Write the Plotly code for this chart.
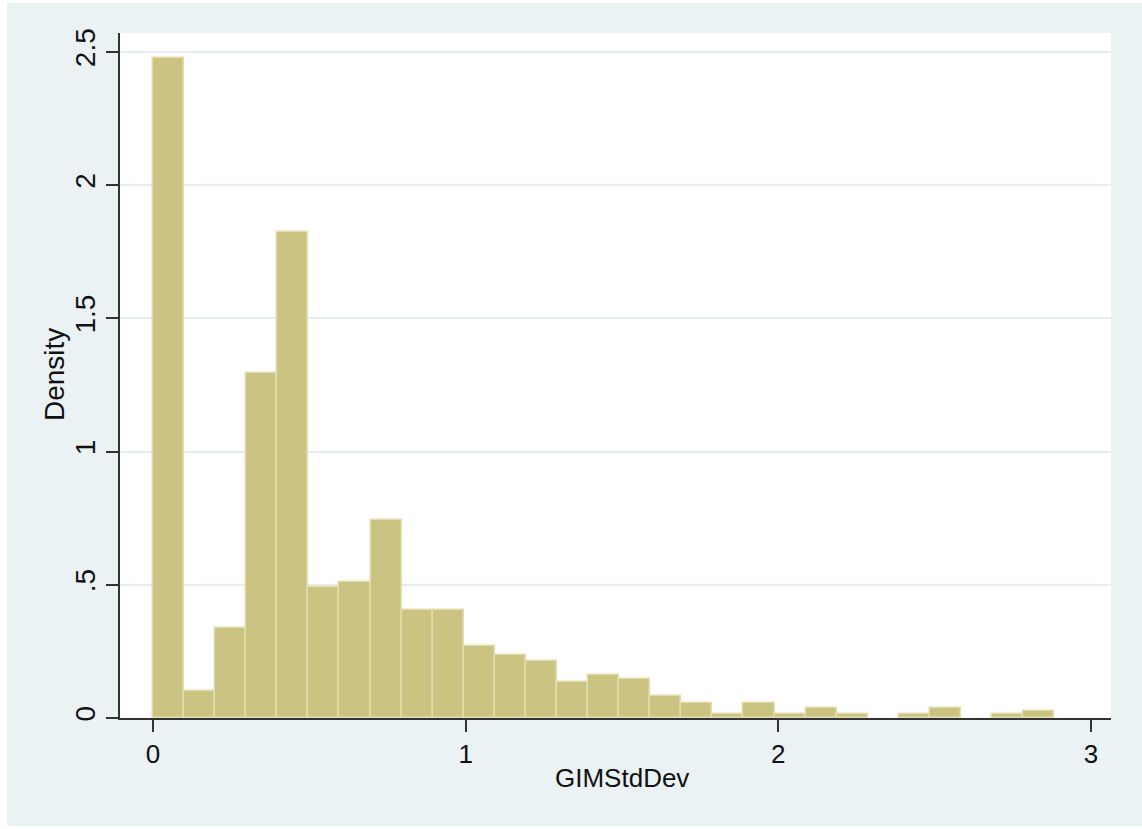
import plotly.graph_objects as go

# Histogram of GIMStdDev (density), 29 bins starting at 0
bin_start = 0.0
bin_width = 0.0994
density = [2.477, 0.103, 0.338, 1.295, 1.824, 0.491, 0.509, 0.743, 0.406, 0.406,
           0.272, 0.238, 0.214, 0.137, 0.161, 0.147, 0.082, 0.057, 0.015, 0.057,
           0.015, 0.037, 0.015, 0.0, 0.015, 0.037, 0.0, 0.015, 0.025]

x_tick_vals = [0, 1, 2, 3]
x_tick_text = ["0", "1", "2", "3"]
y_tick_vals = [0, 0.5, 1, 1.5, 2, 2.5]
y_tick_text = ["0", ".5", "1", "1.5", "2", "2.5"]

centers = [bin_start + bin_width * (i + 0.5) for i in range(len(density))]
line_widths = [1.5 if d > 0 else 0 for d in density]

W, H = 1142, 829
L, R, T, B = 120, 31, 33, 111
pw, ph = W - L - R, H - T - B

def px_x(p):
    return (p - L) / pw

def px_y(p):
    return (H - B - p) / ph

fig = go.Figure()
fig.add_trace(go.Bar(
    x=centers, y=density, width=bin_width,
    marker=dict(color="#cbc382", line=dict(color="#e3ddb0", width=line_widths)),
    hoverinfo="x+y",
))

family = "Liberation Sans, Arial, sans-serif"
xfont = dict(family=family, size=26, color="#111111")
yfont = dict(family=family, size=28, color="#111111")

fig.update_layout(
    width=W, height=H,
    margin=dict(l=L, r=R, t=T, b=B, pad=0),
    paper_bgcolor="white",
    plot_bgcolor="white",
    showlegend=False,
    bargap=0,
    font=xfont,
    xaxis=dict(
        range=[-0.1055, 3.064],
        tickmode="array", tickvals=x_tick_vals, ticktext=x_tick_text,
        ticks="outside", ticklen=12, tickwidth=1.5, tickcolor="#333333",
        showgrid=False, zeroline=False,
        showline=True, linecolor="#333333", linewidth=1.5,
        tickfont=xfont,
    ),
    yaxis=dict(
        range=[0, 2.571],
        tickmode="array", tickvals=y_tick_vals, ticktext=y_tick_text,
        ticks="outside", ticklen=12, tickwidth=1.5, tickcolor="#333333",
        tickangle=-90,
        showgrid=True, gridcolor="#e4eef0", gridwidth=1.5,
        zeroline=False,
        showline=True, linecolor="#333333", linewidth=1.5,
        tickfont=yfont,
    ),
    shapes=[dict(
        type="rect", xref="paper", yref="paper", layer="below",
        x0=px_x(7), x1=px_x(1142), y0=px_y(826), y1=px_y(3),
        fillcolor="#eaf2f3", line=dict(width=0),
    ), dict(
        type="rect", xref="paper", yref="paper", layer="below",
        x0=0, x1=1, y0=0, y1=1,
        fillcolor="white", line=dict(width=0),
    )],
    annotations=[
        dict(text="GIMStdDev", xref="paper", yref="paper",
             x=px_x(622), y=px_y(778), showarrow=False,
             xanchor="center", yanchor="middle", font=xfont),
        dict(text="Density", xref="paper", yref="paper",
             x=px_x(54), y=px_y(375), showarrow=False, textangle=-90,
             xanchor="center", yanchor="middle", font=yfont),
    ],
)

fig.write_html(
    "out.html",
    config={"displayModeBar": False},
    post_script="document.body.style.margin='0';document.body.style.overflow='hidden';",
)
